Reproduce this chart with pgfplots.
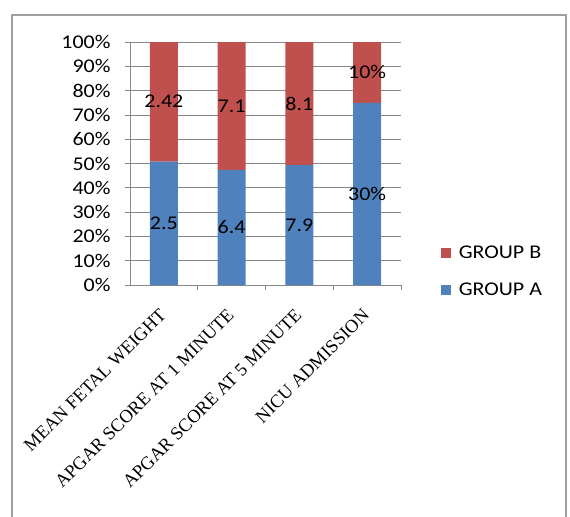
\documentclass[border=0pt]{standalone}
\usepackage{pgfplots}
\pgfplotsset{compat=1.18}
\usepackage{fontspec}
\setmainfont{Carlito}[FakeStretch=1.13]
\newfontfamily\tnr{Liberation Serif}
\definecolor{grpA}{HTML}{4F81BD}
\definecolor{grpB}{HTML}{C0504D}
\definecolor{gridc}{HTML}{878787}
\begin{document}
\begin{tikzpicture}
\useasboundingbox (-130bp,-232bp) rectangle (440bp,285bp);
\draw[gridc!80, line width=1.2bp] (-118bp,-260bp) rectangle (436bp,270bp);
\begin{axis}[
  at={(0,0)}, anchor=south west,
  scale only axis, width=271bp, height=243bp,
  ybar stacked, bar width=28bp,
  xmin=-0.5, xmax=3.5, ymin=0, ymax=100,
  xtick={0,1,2,3},
  xticklabels={MEAN FETAL WEIGHT, APGAR SCORE AT 1 MINUTE, APGAR SCORE AT 5 MINUTE, NICU ADMISSION},
  major x tick style={draw=none},
  minor xtick={0.5,1.5,2.5,3.5},
  minor tick length=5bp,
  minor x tick style={gridc, line width=0.8bp},
  ytick={0,10,...,100},
  yticklabel={\pgfmathprintnumber{\tick}\%},
  /pgf/number format/assume math mode=true,
  tick align=outside, major tick length=5bp,
  y tick style={gridc, line width=0.8bp},
  axis x line*=bottom, axis y line*=left,
  axis line style={gridc, line width=0.8bp, -},
  ymajorgrids, grid style={gridc, line width=0.8bp},
  yticklabel style={font=\fontsize{19.5}{22}\selectfont, xshift=-11bp},
  xticklabel style={font=\tnr\fontsize{18.5}{20}\selectfont, rotate=45, anchor=east, xshift=-13bp, yshift=-15bp},
  point meta=explicit symbolic,
  nodes near coords,
  every node near coord/.append style={anchor=center, font=\fontsize{19.5}{22}\selectfont, text=black},
  legend style={draw=none, fill=none, at={(1.135,0.055)}, anchor=west,
    font=\fontsize{19.5}{22}\selectfont, row sep=19bp,
    /tikz/every odd column/.append style={column sep=6bp}},
  legend cell align=left,
  reverse legend,
  legend image code/.code={\fill[#1] (0bp,-5bp) rectangle (10bp,5bp);},
]
\addplot[fill=grpA, draw=none] coordinates {(0,50.81) [2.5] (1,47.41) [6.4] (2,49.38) [7.9] (3,75) [30\%]};
\addlegendentry{GROUP A}
\addplot[fill=grpB, draw=none] coordinates {(0,49.19) [2.42] (1,52.59) [7.1] (2,50.62) [8.1] (3,25) [10\%]};
\addlegendentry{GROUP B}
\end{axis}
\end{tikzpicture}
\end{document}
